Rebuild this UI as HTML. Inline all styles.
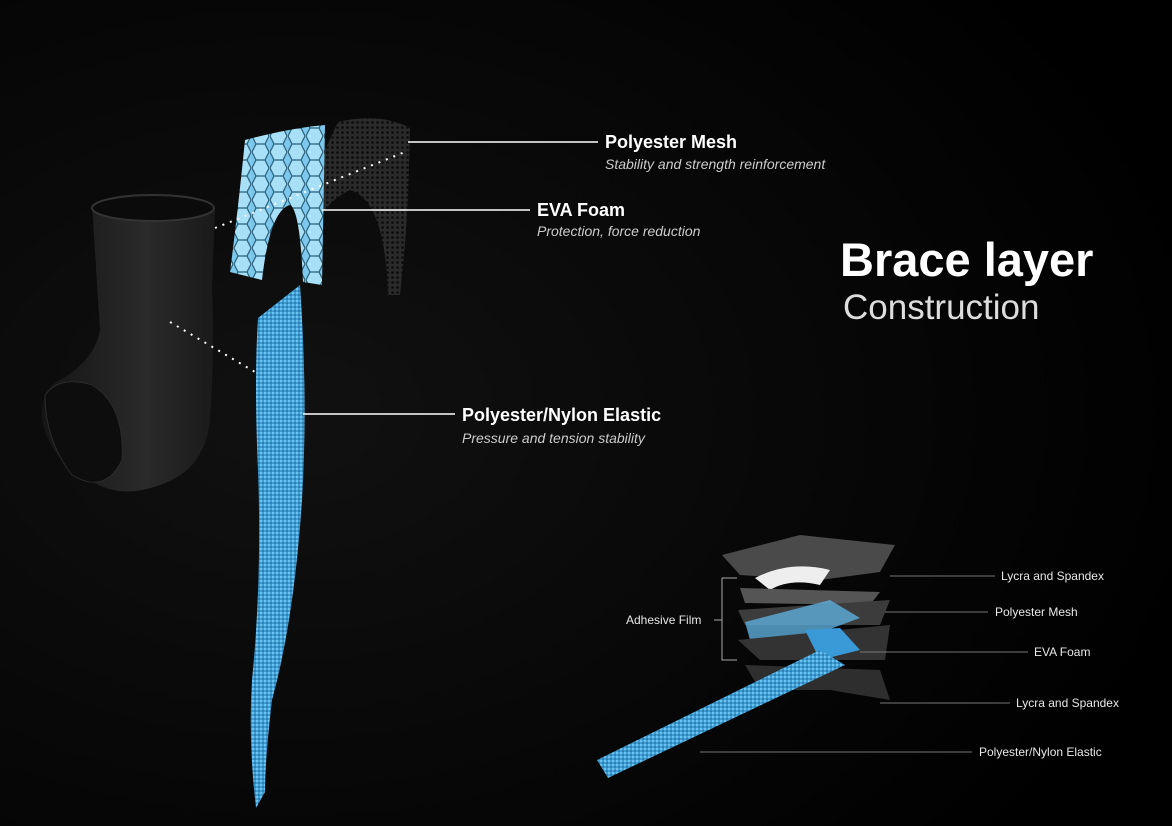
<!DOCTYPE html>
<html><head><meta charset="utf-8"><style>
html,body{margin:0;padding:0;background:#000;}
body{width:1172px;height:826px;overflow:hidden;position:relative;font-family:"Liberation Sans",sans-serif;}
.t{position:absolute;color:#fff;white-space:nowrap;}
.h{font-size:18px;font-weight:bold;}
.s{font-size:14px;font-style:italic;color:#ccc;}
.sm{font-size:12px;color:#e8e8e8;}
</style></head><body>
<svg width="1172" height="826" style="position:absolute;left:0;top:0">
<defs>
<radialGradient id="bg" cx="0.25" cy="0.5" r="0.8"><stop offset="0" stop-color="#111"/><stop offset="1" stop-color="#000"/></radialGradient>
<pattern id="hex" width="18" height="16" patternUnits="userSpaceOnUse"><rect width="18" height="16" fill="#7cc8ec"/><path d="M4 0 L13 0 L17 8 L13 16 L4 16 L0 8Z" fill="#a8e0f8" stroke="#2a5f78" stroke-width="1.2"/></pattern>
<pattern id="weave" width="4" height="4" patternUnits="userSpaceOnUse"><rect width="4" height="4" fill="#3f9fd4"/><rect width="2" height="2" fill="#6cc2ee"/><rect x="2" y="2" width="2" height="2" fill="#2d7fb4"/></pattern>
<pattern id="mesh" width="5" height="5" patternUnits="userSpaceOnUse"><rect width="5" height="5" fill="#2a2a2a"/><circle cx="2.5" cy="2.5" r="1.3" fill="#0a0a0a"/></pattern>
<linearGradient id="sock" x1="0" x2="1"><stop offset="0" stop-color="#151515"/><stop offset="0.6" stop-color="#2a2a2a"/><stop offset="1" stop-color="#1a1a1a"/></linearGradient>
</defs>
<rect width="1172" height="826" fill="url(#bg)"/>
<!-- sock -->
<path d="M92 205 Q150 190 215 210 L212 290 Q215 350 210 420 Q205 470 160 485 Q120 500 90 480 Q50 460 42 420 Q40 390 60 380 Q95 360 100 330 Z" fill="url(#sock)"/>
<ellipse cx="153" cy="208" rx="61" ry="13" fill="#0b0b0b" stroke="#333" stroke-width="2"/>
<path d="M45 395 Q60 375 92 385 Q125 405 122 460 Q105 495 72 475 Q45 440 45 395Z" fill="#0d0d0d" stroke="#2b2b2b"/>
<!-- mesh -->
<path d="M338 122 Q380 112 410 128 L408 200 Q405 250 400 295 L388 295 Q385 200 350 190 Q330 200 322 215 L320 160 Z" fill="url(#mesh)"/>
<!-- EVA foam -->
<path d="M245 140 Q290 128 325 125 L322 285 L303 282 Q300 210 290 205 Q270 210 262 280 L230 272 Q238 210 245 140Z" fill="url(#hex)"/>
<!-- elastic strip -->
<path d="M258 318 L300 285 Q308 400 302 500 Q294 620 272 700 Q265 760 265 792 L256 808 Q248 740 252 680 Q262 580 258 470 Q254 380 258 318Z" fill="url(#weave)"/>
<!-- dotted -->
<line x1="215" y1="228" x2="405" y2="152" stroke="#fff" stroke-width="2" stroke-dasharray="2 6"/>
<line x1="170" y1="322" x2="255" y2="372" stroke="#fff" stroke-width="2" stroke-dasharray="2 6"/>
<!-- leader lines -->
<line x1="408" y1="142" x2="598" y2="142" stroke="#fff" stroke-width="1.5"/>
<line x1="322" y1="210" x2="530" y2="210" stroke="#fff" stroke-width="1.5"/>
<line x1="303" y1="414" x2="455" y2="414" stroke="#fff" stroke-width="1.5"/>
<!-- bottom right exploded -->
<g>
<path d="M722 555 L800 535 L895 545 L880 572 L820 580 L740 575Z" fill="#4a4a4a"/>
<path d="M755 578 Q790 560 830 570 L820 585 Q790 578 770 590Z" fill="#eee"/>
<path d="M740 588 L880 592 L870 605 L745 603Z" fill="#555"/>
<path d="M738 610 L890 600 L880 625 L745 625Z" fill="#3c3c3c"/>
<path d="M745 622 L830 600 L860 618 L800 640 L750 640Z" fill="#5eaedb" opacity="0.8"/>
<path d="M738 640 L890 625 L885 660 L760 660Z" fill="#333"/>
<path d="M805 630 L840 628 L860 650 L820 660Z" fill="#3a9ad8"/>
<path d="M745 665 L880 670 L890 700 L830 690 L760 690Z" fill="#2e2e2e"/>
<path d="M597 760 L820 650 L845 665 L608 778Z" fill="url(#weave)"/>
<path d="M722 578 L737 578 M722 578 L722 660 L737 660 M714 620 L722 620" stroke="#aaa" fill="none"/>
<g stroke="#777" stroke-width="1">
<line x1="890" y1="576" x2="995" y2="576"/>
<line x1="885" y1="612" x2="988" y2="612"/>
<line x1="860" y1="652" x2="1028" y2="652"/>
<line x1="880" y1="703" x2="1010" y2="703"/>
<line x1="700" y1="752" x2="972" y2="752"/>
</g>
</g>
</svg>
<div class="t h" style="left:605px;top:132px">Polyester Mesh</div>
<div class="t s" style="left:605px;top:156px">Stability and strength reinforcement</div>
<div class="t h" style="left:537px;top:200px">EVA Foam</div>
<div class="t s" style="left:537px;top:223px">Protection, force reduction</div>
<div class="t h" style="left:462px;top:405px">Polyester/Nylon Elastic</div>
<div class="t s" style="left:462px;top:430px">Pressure and tension stability</div>
<div class="t" style="left:840px;top:232px;font-size:47px;font-weight:bold;">Brace layer</div>
<div class="t" style="left:843px;top:288px;font-size:35px;color:#ddd;">Construction</div>
<div class="t sm" style="left:1001px;top:569px">Lycra and Spandex</div>
<div class="t sm" style="left:995px;top:605px">Polyester Mesh</div>
<div class="t sm" style="left:1034px;top:645px">EVA Foam</div>
<div class="t sm" style="left:1016px;top:696px">Lycra and Spandex</div>
<div class="t sm" style="left:979px;top:745px">Polyester/Nylon Elastic</div>
<div class="t sm" style="left:626px;top:613px">Adhesive Film</div>
</body></html>
